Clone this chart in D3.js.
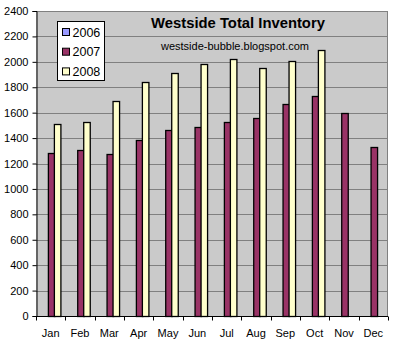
<!DOCTYPE html>
<html>
<head>
<meta charset="utf-8">
<script src="https://cdn.jsdelivr.net/npm/d3@7"></script>
<style>
  html, body { margin: 0; padding: 0; background: #fff; }
  svg { display: block; }
  text { font-family: Arial, "Liberation Sans", sans-serif; }
</style>
</head>
<body>
<svg id="chart" width="400" height="345"></svg>
<script>
// Westside total inventory by month
const months = ["Jan","Feb","Mar","Apr","May","Jun","Jul","Aug","Sep","Oct","Nov","Dec"];
const seriesNames = ["2006", "2007", "2008"];
const values2006 = [null,null,null,null,null,null,null,null,null,null,null,null];
const values2007 = [1280,1310,1275,1385,1460,1485,1525,1555,1670,1735,1600,1330];
const values2008 = [1510,1525,1695,1845,1915,1980,2020,1950,2010,2090,null,null];
const yTicks = [0,200,400,600,800,1000,1200,1400,1600,1800,2000,2200,2400];
const seriesColors = ["#9999ff", "#993366", "#ffffcc"];

const seriesValues = [values2006, values2007, values2008];

const svg = d3.select("#chart");
const plot = { left: 36, right: 388, top: 11, bottom: 316 };

const x0 = d3.scaleBand()
  .domain(months)
  .range([plot.left, plot.right])
  .paddingInner(1 / 3)
  .paddingOuter(1 / 6);

const x1 = d3.scaleBand()
  .domain(seriesNames)
  .range([0, x0.bandwidth()])
  .padding(0);

const y = d3.scaleLinear()
  .domain([0, 2400])
  .range([plot.bottom, plot.top]);

// plot background
svg.append("rect")
  .attr("x", plot.left).attr("y", plot.top)
  .attr("width", plot.right - plot.left)
  .attr("height", plot.bottom - plot.top)
  .attr("fill", "#cacaca");

// gridlines
svg.append("g")
  .selectAll("line")
  .data(yTicks.filter(d => d > 0))
  .join("line")
  .attr("x1", plot.left).attr("x2", plot.right)
  .attr("y1", d => Math.round(y(d)) + 0.5)
  .attr("y2", d => Math.round(y(d)) + 0.5)
  .attr("stroke", "#808080")
  .attr("stroke-width", 1);

// plot frame (top & right)
svg.append("path")
  .attr("d", `M${plot.left},${plot.top + 0.5}H${plot.right - 0.5}V${plot.bottom}`)
  .attr("fill", "none")
  .attr("stroke", "#808080");

// bars
const groups = svg.append("g")
  .selectAll("g")
  .data(months)
  .join("g")
  .attr("transform", d => `translate(${x0(d)},0)`);

groups.selectAll("rect")
  .data((m, i) => seriesNames.map((s, k) => ({ s, v: seriesValues[k][i], c: seriesColors[k] }))
    .filter(d => d.v != null))
  .join("rect")
  .attr("x", d => Math.round(x1(d.s)) + 0.5)
  .attr("y", d => Math.round(y(d.v)) + 0.5)
  .attr("width", x1.bandwidth())
  .attr("height", d => Math.round(y(0)) - Math.round(y(d.v)))
  .attr("fill", d => d.c)
  .attr("stroke", "#000")
  .attr("stroke-width", 1.3);

// y axis
const yAxis = svg.append("g")
  .attr("transform", `translate(${plot.left + 0.5},0)`)
  .call(d3.axisLeft(y).tickValues(yTicks).tickSize(4).tickPadding(4).tickFormat(d3.format("d")));
yAxis.select(".domain").attr("stroke", "#000");
yAxis.selectAll(".tick line").attr("stroke", "#000");
yAxis.selectAll("text").attr("font-size", 11).attr("fill", "#000")
  .style("font-family", "Arial, 'Liberation Sans', sans-serif");

// x axis with ticks at category boundaries
const xAxisG = svg.append("g")
  .attr("transform", `translate(0,${plot.bottom + 0.5})`);
xAxisG.append("line")
  .attr("x1", plot.left).attr("x2", plot.right)
  .attr("stroke", "#000");
const step = x0.step();
xAxisG.selectAll(".tk")
  .data(d3.range(months.length + 1))
  .join("line")
  .attr("class", "tk")
  .attr("x1", i => Math.round(plot.left + i * step) + 0.5)
  .attr("x2", i => Math.round(plot.left + i * step) + 0.5)
  .attr("y1", 0).attr("y2", 4)
  .attr("stroke", "#000");
xAxisG.selectAll(".lbl")
  .data(months)
  .join("text")
  .attr("class", "lbl")
  .attr("x", d => x0(d) + x0.bandwidth() / 2)
  .attr("y", 20)
  .attr("text-anchor", "middle")
  .attr("font-size", 11)
  .attr("fill", "#000")
  .text(d => d);

// titles
svg.append("text")
  .attr("x", 238).attr("y", 28)
  .attr("text-anchor", "middle")
  .attr("font-size", 14.8).attr("font-weight", "bold")
  .attr("fill", "#000")
  .text("Westside Total Inventory");
svg.append("text")
  .attr("x", 235).attr("y", 50)
  .attr("text-anchor", "middle")
  .attr("font-size", 11)
  .attr("fill", "#000")
  .text("westside-bubble.blogspot.com");

// legend
const legend = svg.append("g").attr("transform", "translate(57.5,21.5)");
legend.append("rect")
  .attr("width", 47).attr("height", 59)
  .attr("fill", "#fff").attr("stroke", "#000");
const items = legend.selectAll(".item")
  .data(seriesNames)
  .join("g")
  .attr("class", "item")
  .attr("transform", (d, i) => `translate(5,${7 + i * 19.7})`);
items.append("rect")
  .attr("width", 7).attr("height", 7)
  .attr("fill", (d, i) => seriesColors[i])
  .attr("stroke", "#000");
items.append("text")
  .attr("x", 10).attr("y", 8)
  .attr("font-size", 12.5)
  .attr("fill", "#000")
  .text(d => d);
</script>
</body>
</html>
